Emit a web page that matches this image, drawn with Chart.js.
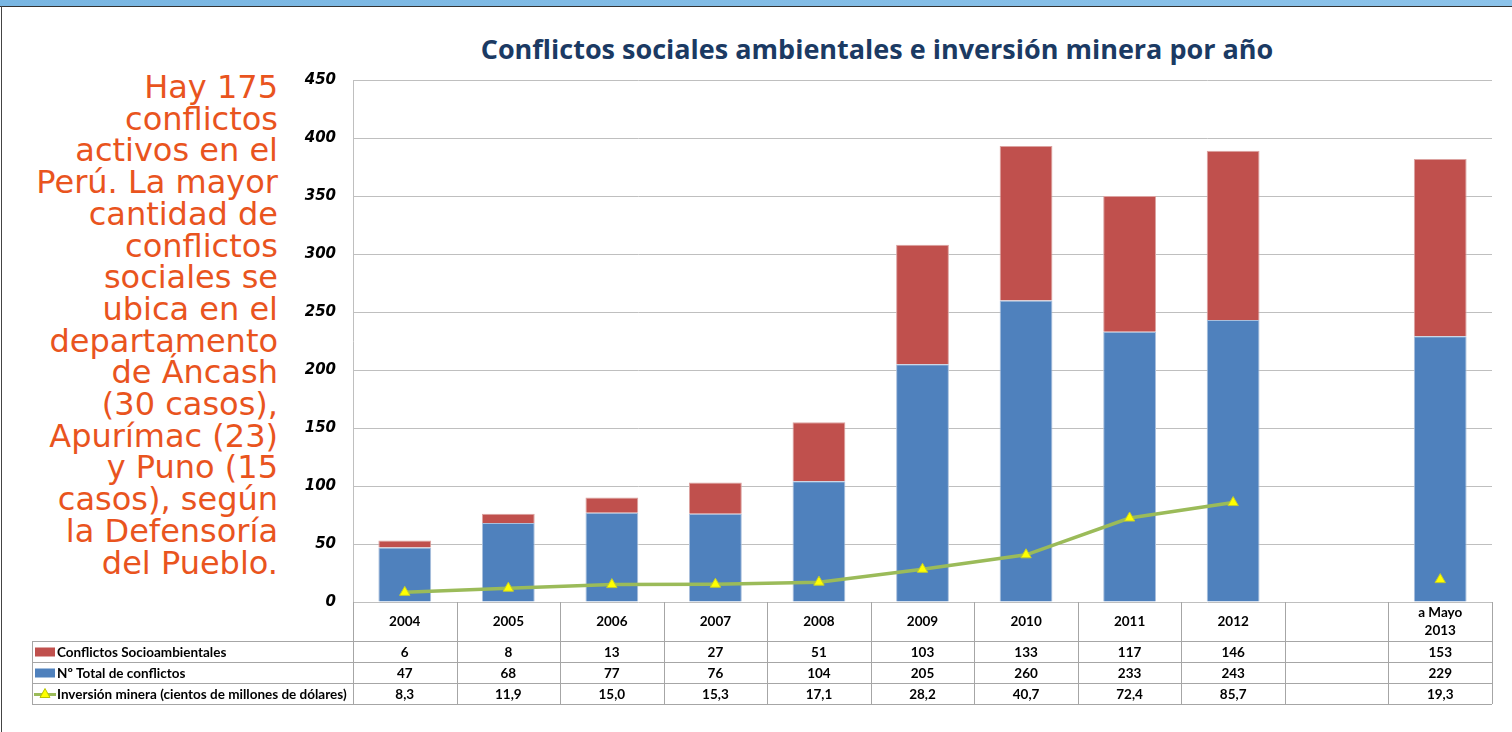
<!DOCTYPE html>
<html>
<head>
<meta charset="utf-8">
<script src="https://cdn.jsdelivr.net/npm/chart.js@4"></script>
<style>
  body { margin: 0; background: #fff; }
  #slide { position: relative; width: 1512px; height: 732px; overflow: hidden; background: #fff; }
  #band { position: absolute; left: 0; top: 0; width: 1512px; height: 6px; background: linear-gradient(90deg, #79b6e2, #8cc3ea); border-bottom: 1px solid #333; }
  #edge { position: absolute; left: 1px; top: 6px; width: 1px; height: 726px; background: #444; }
  #side { position: absolute; right: 1234px; top: 72px; width: 270px; text-align: right;
          font-family: "DejaVu Sans", sans-serif; font-size: 32px; line-height: 31.7px; color: #e9541e; }
  #title { position: absolute; left: 353px; width: 1048px; top: 30px; text-align: center;
           font-family: "Open Sans", sans-serif; font-weight: bold; font-size: 27px; color: #1b3a63; }
  canvas { position: absolute; left: 0; top: 0; }
</style>
</head>
<body>
<div id="slide">
  <div id="band"></div>
  <div id="edge"></div>
  <div id="side">Hay 175<br>conflictos<br>activos en el<br>Perú. La mayor<br>cantidad de<br>conflictos<br>sociales se<br>ubica en el<br>departamento<br>de Áncash<br>(30 casos),<br>Apurímac (23)<br>y Puno (15<br>casos), según<br>la Defensoría<br>del Pueblo.</div>
  <div id="title">Conflictos sociales ambientales e inversión minera por año</div>
  <canvas id="chart" width="1512" height="732"></canvas>
</div>
<script>
// categories (one empty slot before the partial 2013 year)
const years = ['2004', '2005', '2006', '2007', '2008', '2009', '2010', '2011', '2012', '', ['a Mayo', '2013']];
const socioambientales = [6, 8, 13, 27, 51, 103, 133, 117, 146, null, 153];
const totalConflictos = [47, 68, 77, 76, 104, 205, 260, 233, 243, null, 229];
const inversion = [8.3, 11.9, 15.0, 15.3, 17.1, 28.2, 40.7, 72.4, 85.7, null, 19.3];
const yTicks = [0, 50, 100, 150, 200, 250, 300, 350, 400, 450];

const seriesNames = ['Conflictos Socioambientales', 'Nº Total de conflictos', 'Inversión minera (cientos de millones de dólares)'];

// data table drawn under the plot, aligned on the x scale
const tablePlugin = {
  id: 'dataTable',
  afterDraw(chart) {
    const ctx = chart.ctx;
    const x = chart.scales.x;
    const area = chart.chartArea;
    const n = years.length;
    const cw = (area.right - area.left) / n;
    const top = area.bottom;
    const headH = 39, rowH = 21;
    const rows = [socioambientales, totalConflictos, inversion];
    const tableLeft = 32;
    const bottom = top + headH + rowH * 3;

    ctx.save();
    ctx.strokeStyle = '#a6a6a6';
    ctx.lineWidth = 1;
    ctx.beginPath();
    // vertical lines of the value columns
    for (let i = 0; i <= n; i++) {
      const px = Math.round(area.left + i * cw) + 0.5;
      ctx.moveTo(px, top);
      ctx.lineTo(px, bottom);
    }
    // left column edge
    ctx.moveTo(tableLeft + 0.5, top + headH);
    ctx.lineTo(tableLeft + 0.5, bottom);
    // horizontal lines
    for (let r = 0; r <= 3; r++) {
      const py = Math.round(top + headH + r * rowH) + 0.5;
      ctx.moveTo(tableLeft, py);
      ctx.lineTo(area.right, py);
    }
    ctx.stroke();

    ctx.fillStyle = '#000';
    ctx.font = 'bold 13.5px Lato, sans-serif';
    ctx.textAlign = 'center';
    ctx.textBaseline = 'middle';
    years.forEach((lab, i) => {
      const cx = x.getPixelForValue(i);
      if (Array.isArray(lab)) {
        ctx.fillText(lab[0], cx, top + 11);
        ctx.fillText(lab[1], cx, top + 29);
      } else {
        ctx.fillText(lab, cx, top + 20);
      }
      rows.forEach((vals, r) => {
        const v = vals[i];
        if (v === null) return;
        const txt = r === 2 ? v.toFixed(1).replace('.', ',') : String(v);
        ctx.fillText(txt, cx, top + headH + r * rowH + rowH / 2 + 1);
      });
    });

    // legend keys in the first column
    ctx.textAlign = 'left';
    const keyColors = ['#c0504d', '#4f81bd'];
    seriesNames.forEach((name, r) => {
      const cy = top + headH + r * rowH + rowH / 2;
      if (r < 2) {
        ctx.fillStyle = keyColors[r];
        ctx.fillRect(35, cy - 4, 20, 9);
      } else {
        ctx.strokeStyle = '#9bbb59';
        ctx.lineWidth = 3;
        ctx.beginPath();
        ctx.moveTo(34, cy + 1);
        ctx.lineTo(56, cy + 1);
        ctx.stroke();
        ctx.fillStyle = '#ffff00';
        ctx.strokeStyle = '#b8c400';
        ctx.lineWidth = 1;
        ctx.beginPath();
        ctx.moveTo(45, cy - 5);
        ctx.lineTo(50, cy + 4);
        ctx.lineTo(40, cy + 4);
        ctx.closePath();
        ctx.fill();
        ctx.stroke();
      }
      ctx.fillStyle = '#000';
      ctx.fillText(name, 57, cy + 1);
    });
    ctx.restore();
  }
};

const ctx = document.getElementById('chart').getContext('2d');
const chart = new Chart(ctx, {
  type: 'bar',
  data: {
    labels: years,
    datasets: [
      {
        type: 'line',
        label: seriesNames[2],
        data: inversion,
        stack: 'inv',
        order: 0,
        borderColor: '#9bbb59',
        borderWidth: 3.5,
        pointStyle: 'triangle',
        pointRadius: 6,
        pointBackgroundColor: '#ffff00',
        pointBorderColor: '#c4cc2a',
        pointBorderWidth: 1,
        spanGaps: false,
        tension: 0
      },
      {
        label: seriesNames[1],
        data: totalConflictos,
        stack: 'c',
        order: 1,
        backgroundColor: '#4f81bd',
        borderColor: '#a9bfdc',
        borderWidth: 1
      },
      {
        label: seriesNames[0],
        data: socioambientales,
        stack: 'c',
        order: 1,
        backgroundColor: '#c0504d',
        borderColor: '#dca3a1',
        borderWidth: 1
      }
    ]
  },
  options: {
    responsive: false,
    animation: false,
    layout: { padding: { left: 293, right: 20, top: 80, bottom: 130 } },
    datasets: { bar: { categoryPercentage: 1, barPercentage: 0.51 } },
    plugins: {
      legend: { display: false },
      title: { display: false },
      tooltip: { enabled: false }
    },
    scales: {
      x: {
        stacked: true,
        display: false
      },
      y: {
        stacked: true,
        min: 0,
        max: 450,
        afterFit(scale) { scale.width = 60; },
        afterBuildTicks(scale) { scale.ticks = yTicks.map(v => ({ value: v })); },
        grid: { color: '#bfbfbf', drawTicks: false },
        border: { color: '#bfbfbf' },
        ticks: {
          padding: 17,
          color: '#000',
          font: { family: 'DejaVu Sans', size: 15, weight: 'bold', style: 'italic' }
        }
      }
    }
  },
  plugins: [tablePlugin]
});
</script>
</body>
</html>
